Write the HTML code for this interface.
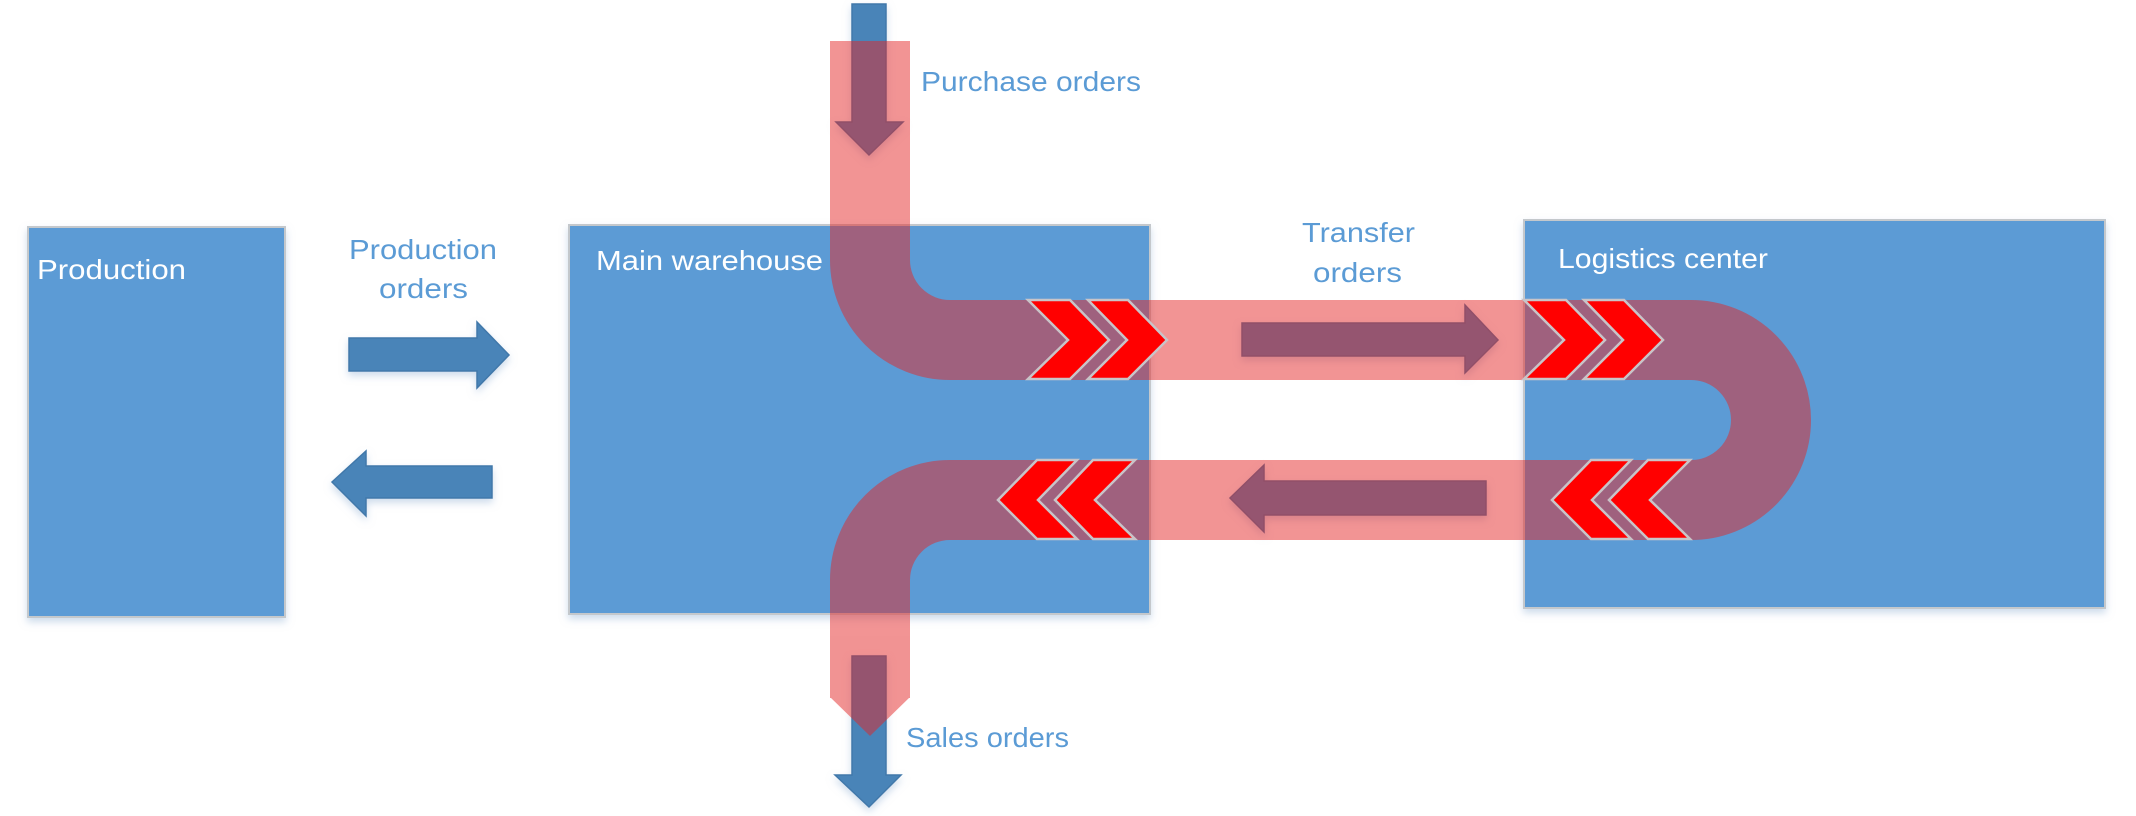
<!DOCTYPE html>
<html><head><meta charset="utf-8"><style>
html,body{margin:0;padding:0;background:#fff;}
svg{display:block;}
text{font-family:"Liberation Sans Narrow","Liberation Sans",sans-serif;font-size:28px;}
</style></head><body>
<svg width="2136" height="816" viewBox="0 0 2136 816" xmlns="http://www.w3.org/2000/svg">
<defs>
<filter id="sh" x="-5%" y="-5%" width="110%" height="115%"><feDropShadow dx="0" dy="4" stdDeviation="4" flood-color="#9bb8d8" flood-opacity="0.5"/></filter>
</defs>
<rect x="28" y="227" width="257" height="390" fill="#5b9bd5" stroke="#c4c8cc" stroke-width="2" filter="url(#sh)"/>
<rect x="569" y="225" width="581" height="389" fill="#5b9bd5" stroke="#c4c8cc" stroke-width="2" filter="url(#sh)"/>
<rect x="1524" y="220" width="581" height="388" fill="#5b9bd5" stroke="#c4c8cc" stroke-width="2" filter="url(#sh)"/>
<text x="37" y="279" fill="#fff" textLength="149" lengthAdjust="spacingAndGlyphs">Production</text>
<text x="596" y="270" fill="#fff" textLength="227" lengthAdjust="spacingAndGlyphs">Main warehouse</text>
<text x="1558" y="268" fill="#fff" textLength="210" lengthAdjust="spacingAndGlyphs">Logistics center</text>
<g fill="#5b9bd5">
<text x="349" y="259" textLength="148" lengthAdjust="spacingAndGlyphs">Production</text>
<text x="379" y="298" textLength="89" lengthAdjust="spacingAndGlyphs">orders</text>
<text x="1302" y="242" textLength="113" lengthAdjust="spacingAndGlyphs">Transfer</text>
<text x="1313" y="282" textLength="89" lengthAdjust="spacingAndGlyphs">orders</text>
<text x="921" y="91" textLength="220" lengthAdjust="spacingAndGlyphs">Purchase orders</text>
<text x="906" y="747" textLength="163" lengthAdjust="spacingAndGlyphs">Sales orders</text>
</g>
<g fill="#4a84b8" stroke="#4178aa" stroke-width="1.5" filter="url(#sh)">
<polygon points="349,338 477,338 477,322 509,355 477,388 477,371 349,371"/>
<polygon points="492,466 366,466 366,451 332,482 366,516 366,498 492,498"/>
<polygon points="852,4 886,4 886,122 903,122 869,155 836,122 852,122"/>
<polygon points="852,656 886,656 886,775 901,775 869,807 835,775 852,775"/>
<polygon points="1242,323 1465,323 1465,305 1498,340 1465,373 1465,356 1242,356"/>
<polygon points="1486,481 1264,481 1264,465 1230,498 1264,532 1264,515 1486,515"/>
</g>
<g opacity="0.49">
<path d="M870 41 V260 A80 80 0 0 0 950 340 H1691 A80 80 0 0 1 1691 500 H950 A80 80 0 0 0 870 580 V698" fill="none" stroke="#e42424" stroke-width="80"/>
<polygon points="830,695 910,695 910,697 870,736 830,697" fill="#e42424"/>
</g>
<g fill="#ff0000" stroke="#c9c4c8" stroke-width="2.5">
<polygon points="1028,300 1070,300 1109,340 1070,379 1028,379 1068,340"/>
<polygon points="1088,300 1128,300 1167,340 1128,379 1088,379 1127,340"/>
<polygon points="1524,300 1566,300 1605,340 1566,379 1524,379 1564,340"/>
<polygon points="1584,300 1624,300 1663,340 1624,379 1584,379 1623,340"/>
<polygon points="1077,460 1037,460 998,500 1037,539 1077,539 1038,500"/>
<polygon points="1135,460 1093,460 1055,500 1093,539 1135,539 1095,500"/>
<polygon points="1631,460 1591,460 1552,500 1591,539 1631,539 1592,500"/>
<polygon points="1690,460 1648,460 1609,500 1648,539 1690,539 1650,500"/>
</g>
</svg>
</body></html>
